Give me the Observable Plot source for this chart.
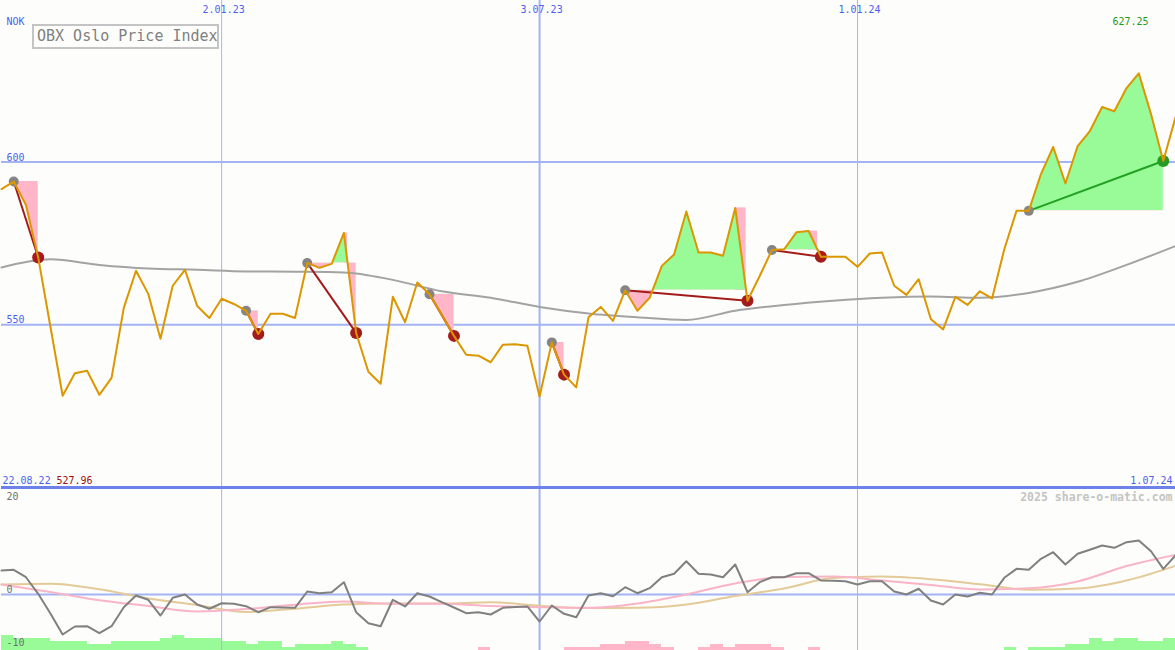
<!DOCTYPE html>
<html><head><meta charset="utf-8">
<script src="https://cdn.jsdelivr.net/npm/d3@7"></script>
<script src="https://cdn.jsdelivr.net/npm/@observablehq/plot@0.6"></script>
<style>
html,body{margin:0;padding:0;background:#fdfefb;}
#chart{position:relative;width:1175px;height:650px;overflow:hidden;background:#fdfefb;}
#chart svg{display:block;}
#title{position:absolute;z-index:2;left:32px;top:24px;width:187px;height:25px;box-sizing:border-box;border:2px solid #c4c4c4;
  font:15px "DejaVu Sans Mono",monospace;color:#808080;line-height:21px;padding-left:3px;white-space:nowrap;overflow:hidden;}
</style></head>
<body><div id="chart"><div id="title">OBX Oslo Price Index</div></div>
<script>
// ---------- data ----------
const dates = [
 "2022-08-29","2022-09-05","2022-09-12","2022-09-19","2022-09-26","2022-10-03","2022-10-10","2022-10-17","2022-10-24","2022-10-31",
 "2022-11-07","2022-11-14","2022-11-21","2022-11-28","2022-12-05","2022-12-12","2022-12-19","2022-12-26","2023-01-02","2023-01-09",
 "2023-01-16","2023-01-23","2023-01-30","2023-02-06","2023-02-13","2023-02-20","2023-02-27","2023-03-06","2023-03-13","2023-03-20",
 "2023-03-27","2023-04-03","2023-04-10","2023-04-17","2023-04-24","2023-05-01","2023-05-08","2023-05-15","2023-05-22","2023-05-29",
 "2023-06-05","2023-06-12","2023-06-19","2023-06-26","2023-07-03","2023-07-10","2023-07-17","2023-07-24","2023-07-31","2023-08-07",
 "2023-08-14","2023-08-21","2023-08-28","2023-09-04","2023-09-11","2023-09-18","2023-09-25","2023-10-02","2023-10-09","2023-10-16",
 "2023-10-23","2023-10-30","2023-11-06","2023-11-13","2023-11-20","2023-11-27","2023-12-04","2023-12-11","2023-12-18","2023-12-25",
 "2024-01-01","2024-01-08","2024-01-15","2024-01-22","2024-01-29","2024-02-05","2024-02-12","2024-02-19","2024-02-26","2024-03-04",
 "2024-03-11","2024-03-18","2024-03-25","2024-04-01","2024-04-08","2024-04-15","2024-04-22","2024-04-29","2024-05-06","2024-05-13",
 "2024-05-20","2024-05-27","2024-06-03","2024-06-10","2024-06-17","2024-06-24","2024-07-01"];

const price = [
 591.7, 594.0, 586.8, 570.7, 549.4, 528.2, 535.1, 535.9, 528.5, 533.7,
 555.2, 566.6, 559.5, 545.7, 562.0, 566.9, 555.8, 552.1, 558.0, 556.4,
 554.3, 547.2, 553.4, 553.4, 552.1, 569.0, 567.5, 568.7, 578.2, 547.5,
 535.6, 531.9, 558.6, 550.8, 563.0, 559.4, 553.1, 546.6, 540.8, 540.5,
 538.5, 543.9, 544.0, 543.6, 527.96, 544.6, 534.7, 530.8, 552.3, 555.5,
 551.2, 560.6, 554.3, 558.3, 568.1, 571.6, 584.8, 572.2, 572.2, 571.2,
 585.9, 557.4, 565.0, 573.0, 573.2, 578.4, 578.8, 570.9, 570.9, 570.9,
 567.8, 571.9, 572.2, 562.0, 559.2, 564.0, 551.7, 548.6, 558.6, 556.1,
 560.3, 558.1, 573.2, 585.0, 585.0, 596.3, 604.6, 593.4, 604.9, 609.5,
 616.9, 615.6, 622.7, 627.25, 614.7, 600.3, 613.7];

// moving average, read every 4th week
const maValues = [567.6, 570.1, 568.4, 567.3, 566.9, 566.4, 566.3, 566.1, 563.8, 560.3, 558.3, 555.5, 553.5,
                  552.3, 551.5, 554.3, 556.1, 557.4, 558.3, 558.7, 558.3, 559.8, 563.2, 568.4, 574.2];

// lower panel oscillator (weekly)
const osc = [
 4.49, 4.62, 3.23, 0.13, -3.55, -7.48, -5.98, -5.93, -7.23, -5.93,
 -2.37, -0.19, -0.99, -3.93, -0.62, 0.0, -1.87, -2.67, -1.63, -1.74,
 -2.19, -3.31, -2.37, -2.43, -2.49, 0.56, 0.24, 0.43, 2.30, -3.31,
 -5.36, -5.93, -0.99, -2.24, 0.24, -0.37, -1.44, -2.43, -3.50, -3.31,
 -3.74, -2.49, -2.34, -2.24, -5.05, -2.06, -3.61, -4.24, -0.19, 0.24,
 -0.32, 1.36, 0.24, 1.18, 3.23, 3.87, 6.22, 3.87, 3.74, 3.23,
 5.61, 0.43, 2.30, 3.23, 3.23, 3.98, 3.98, 2.62, 2.56, 2.49,
 1.87, 2.49, 2.49, 0.56, 0.0, 1.07, -1.12, -1.87, 0.0, -0.37,
 0.32, 0.0, 3.12, 4.80, 4.62, 6.67, 7.91, 5.61, 7.61, 8.36,
 9.16, 8.73, 9.78, 10.09, 8.09, 4.80, 7.29];

// lower panel signal lines, read every 4th week
const pinkAvg = [1.87, 0.47, -1.08, -2.15, -3.18, -2.71, -1.91, -1.31, -1.74, -1.74, -2.15, -2.37, -2.49,
                 -1.68, 0.0, 2.06, 3.27, 3.36, 2.62, 1.78, 0.93, 1.16, 2.43, 5.33, 7.42];
const tanAvg  = [1.87, 2.0, 0.97, -0.75, -1.96, -3.27, -2.65, -1.87, -1.66, -1.68, -1.46, -2.09, -2.52,
                 -2.49, -1.87, -0.28, 1.12, 3.08, 3.36, 2.86, 1.91, 0.90, 1.12, 2.62, 5.36];

// histogram levels per week interval (positive = green, negative = pink)
const hist = [
 5,4,4,4,3,3,3,2,2,3,
 3,3,3,4,5,4,4,4,3,3,
 2,3,3,1,2,2,2,3,2,1,
 0,0,0,0,0,0,0,0,0,-1,
 0,0,0,0,0,0,-1,-1,-1,-2,
 -2,-3,-3,-2,-1,0,0,-1,-2,-1,
 -2,-2,-2,-1,0,0,-1,0,0,0,
 0,0,0,0,0,0,0,0,0,0,
 0,0,1,0,1,1,1,2,2,4,
 3,4,4,3,3,4];

// signal periods: [start week index, end week index]
const signals = [[1,3],[20,21],[25,29],[35,37],[45,46],[51,61],[63,67],[84,95]];

const gridThin = ["2023-01-02","2024-01-01"];
const gridThick = ["2023-07-03"];
const dateTicks = ["2023-01-02","2023-07-03","2024-01-01"];
const dateTickLabels = ["2.01.23","3.07.23","1.01.24"];
const priceTicks = [550, 600];
const oscTopTick = [20];
const oscTicks = [0, -10];
const unitLabel = "NOK";
const maxLabel = "627.25";
const minLabel = "527.96";
const startLabel = "22.08.22";
const endLabel = "1.07.24";
const credit = "2025 share-o-matic.com";

// ---------- setup ----------
const W = 1175, H1 = 489, H2 = 161;
const yDomain = [499.42, 649.6];
const oscDomain = [-10.47, 19.63];
const barStep = 0.56;
const parse = s => new Date(s + "T00:00:00Z");
const D = dates.map(parse);
const xDomain = [D[0], D[D.length - 1]];

const C = {
  blue: "#4d5ef0", grid: "#a3b3f3", gridThin: "#aab4ea", sep: "#6c82ea",
  green: "#98fb98", pink: "#ffb6c8", orange: "#dc9600", ma: "#a3a3a3",
  red: "#a31b1b", gainLine: "#22a022", gainDot: "#259a25", startDot: "#858585",
  maxText: "#1f9a1f", minText: "#a01010", tan: "#e3ca98", pinkLine: "#f9b4c8", osc: "#808080"
};
const font = "DejaVu Sans Mono";

const rows = D.map((d, i) => ({date: d, price: price[i]}));
const maRows = maValues.map((v, k) => ({date: D[k * 4], v}));

const segs = signals.map(([s, e]) => {
  const level = price[s];
  return {
    s, e, level, gain: price[e] > level,
    rows: rows.slice(s, e + 1).map(r => ({...r, level})),
    link: {d1: D[s], v1: level, d2: D[e], v2: price[e]}
  };
});

// box between a peak and the level, up to where the price falls through the level
const quirks = [];
segs.forEach(sg => {
  for (let i = sg.s; i < sg.e; i++) {
    if (price[i] > sg.level && price[i + 1] < sg.level) {
      const f = (price[i] - sg.level) / (price[i] - price[i + 1]);
      quirks.push({x1: D[i], x2: new Date(+D[i] + f * (D[i + 1] - D[i])), y1: price[i], y2: sg.level});
    }
  }
});

const areaMarks = [];
segs.forEach(sg => {
  areaMarks.push(Plot.area(sg.rows, {x1: "date", y1: "level", y2: "price", fill: C.green}));
  areaMarks.push(Plot.area(sg.rows, {x1: "date", y1: "level", y2: "price", fill: C.pink}));
});

const topPlot = Plot.plot({
  width: W, height: H1,
  marginLeft: 1, marginRight: 0, marginTop: 0, marginBottom: 0,
  x: {type: "utc", domain: xDomain, axis: null},
  y: {domain: yDomain, axis: null},
  style: {background: "none", fontFamily: font, fontSize: "10px", overflow: "visible"},
  marks: [
    Plot.ruleX(gridThin.map(parse), {stroke: C.gridThin, strokeWidth: 1}),
    Plot.ruleX(gridThick.map(parse), {stroke: C.grid, strokeWidth: 2}),
    Plot.ruleY(priceTicks, {stroke: C.grid, strokeWidth: 2}),
    Plot.rect(quirks, {x1: "x1", x2: "x2", y1: "y1", y2: "y2", fill: C.pink}),
    ...areaMarks,
    Plot.line(maRows, {x: "date", y: "v", stroke: C.ma, strokeWidth: 2, curve: "monotone-x"}),
    Plot.link(segs.filter(s => !s.gain).map(s => s.link), {x1: "d1", y1: "v1", x2: "d2", y2: "v2", stroke: C.red, strokeWidth: 2}),
    Plot.link(segs.filter(s => s.gain).map(s => s.link), {x1: "d1", y1: "v1", x2: "d2", y2: "v2", stroke: C.gainLine, strokeWidth: 2}),
    Plot.dot(segs, {x: s => D[s.s], y: s => price[s.s], r: 5, fill: C.startDot}),
    Plot.dot(segs.filter(s => !s.gain), {x: s => D[s.e], y: s => price[s.e], r: 6, fill: C.red}),
    Plot.dot(segs.filter(s => s.gain), {x: s => D[s.e], y: s => price[s.e], r: 6, fill: C.gainDot}),
    Plot.line(rows, {x: "date", y: "price", stroke: C.orange, strokeWidth: 2}),
    Plot.ruleY([500], {stroke: C.sep, strokeWidth: 3}),
    Plot.text(dateTicks.map((d, i) => ({d: parse(d), t: dateTickLabels[i]})),
      {x: "d", text: "t", frameAnchor: "top", lineAnchor: "top", dy: 5, dx: 2, fill: C.blue, fontFamily: font, fontSize: 10}),
    Plot.text(priceTicks, {y: d => d, text: d => String(d), frameAnchor: "left", textAnchor: "start", lineAnchor: "bottom", dx: 5, dy: -1.5, fill: C.blue, fontFamily: font, fontSize: 10}),
    Plot.text([unitLabel], {frameAnchor: "top-left", textAnchor: "start", lineAnchor: "top", dx: 5, dy: 17, fill: C.blue, fontFamily: font, fontSize: 10}),
    Plot.text([maxLabel], {frameAnchor: "top-right", textAnchor: "end", lineAnchor: "top", dx: -27, dy: 17, fill: C.maxText, fontFamily: font, fontSize: 10}),
    Plot.text([startLabel], {frameAnchor: "bottom-left", textAnchor: "start", lineAnchor: "bottom", dx: 1, dy: -6, fill: C.blue, fontFamily: font, fontSize: 10}),
    Plot.text([minLabel], {frameAnchor: "bottom-left", textAnchor: "start", lineAnchor: "bottom", dx: 55, dy: -6, fill: C.minText, fontFamily: font, fontSize: 10}),
    Plot.text([endLabel], {frameAnchor: "bottom-right", textAnchor: "end", lineAnchor: "bottom", dx: -3, dy: -6, fill: C.blue, fontFamily: font, fontSize: 10})
  ]
});

// clip each signal's green fill to above its level and pink fill to below it
(function clipFills() {
  const ns = "http://www.w3.org/2000/svg";
  const yS = topPlot.scale("y");
  const defs = document.createElementNS(ns, "defs");
  topPlot.insertBefore(defs, topPlot.firstChild);
  const groups = topPlot.querySelectorAll('g[aria-label="area"]');
  segs.forEach((sg, k) => {
    const ly = yS.apply(sg.level);
    [[0, ly], [ly, H1]].forEach(([a, b], j) => {
      const g = groups[2 * k + j];
      if (!g) return;
      const id = "fillclip-" + k + "-" + j;
      const cp = document.createElementNS(ns, "clipPath");
      cp.setAttribute("id", id);
      const r = document.createElementNS(ns, "rect");
      r.setAttribute("x", 0); r.setAttribute("y", a);
      r.setAttribute("width", W); r.setAttribute("height", Math.max(0, b - a));
      cp.appendChild(r); defs.appendChild(cp);
      g.setAttribute("clip-path", "url(#" + id + ")");
    });
  });
})();

const bars = hist.map((h, i) => ({x1: D[i], x2: D[i + 1], h}));
const oscRows = D.map((d, i) => ({date: d, v: osc[i]}));
const avgRows = pinkAvg.map((v, k) => ({date: D[k * 4], pink: v, tan: tanAvg[k]}));

const lowPlot = Plot.plot({
  width: W, height: H2,
  marginLeft: 1, marginRight: 0, marginTop: 0, marginBottom: 0,
  x: {type: "utc", domain: xDomain, axis: null},
  y: {domain: oscDomain, axis: null},
  style: {background: "none", fontFamily: font, fontSize: "10px", overflow: "visible"},
  marks: [
    Plot.rect(bars.filter(b => b.h > 0), {x1: "x1", x2: "x2", y1: oscDomain[0], y2: b => oscDomain[0] + b.h * barStep, fill: C.green, shapeRendering: "crispEdges"}),
    Plot.rect(bars.filter(b => b.h < 0), {x1: "x1", x2: "x2", y1: oscDomain[0], y2: b => oscDomain[0] - b.h * barStep, fill: C.pink, shapeRendering: "crispEdges"}),
    Plot.ruleX(gridThin.map(parse), {stroke: C.gridThin, strokeWidth: 1}),
    Plot.ruleX(gridThick.map(parse), {stroke: C.grid, strokeWidth: 2}),
    Plot.ruleY([0], {stroke: C.grid, strokeWidth: 2}),
    Plot.line(avgRows, {x: "date", y: "tan", stroke: C.tan, strokeWidth: 2, curve: "monotone-x"}),
    Plot.line(avgRows, {x: "date", y: "pink", stroke: C.pinkLine, strokeWidth: 2, curve: "monotone-x"}),
    Plot.line(oscRows, {x: "date", y: "v", stroke: C.osc, strokeWidth: 2}),
    Plot.text(oscTopTick, {y: d => d, text: d => String(d), frameAnchor: "left", textAnchor: "start", lineAnchor: "top", dx: 5, dy: 5.5, fill: "#707070", fontFamily: font, fontSize: 10}),
    Plot.text(oscTicks, {y: d => d, text: d => String(d), frameAnchor: "left", textAnchor: "start", lineAnchor: "bottom", dx: 5, dy: -1.5, fill: "#707070", fontFamily: font, fontSize: 10}),
    Plot.text([credit], {frameAnchor: "top-right", textAnchor: "end", lineAnchor: "top", dx: -3, dy: 3, fill: "#c4c4c4", fontFamily: font, fontSize: 11.5, fontWeight: "bold"})
  ]
});

const chart = document.getElementById("chart");
chart.appendChild(topPlot);
chart.appendChild(lowPlot);
</script>
</body></html>
